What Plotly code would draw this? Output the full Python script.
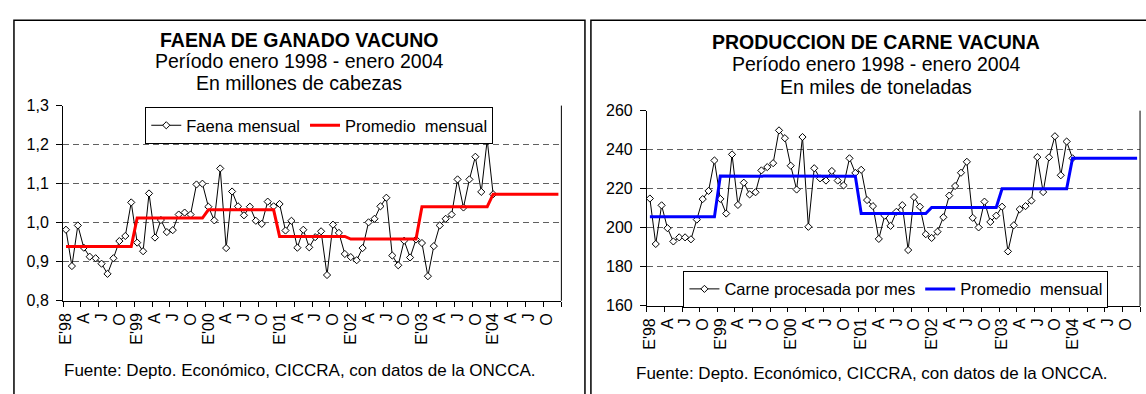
import plotly.graph_objects as go

# ---------------- data ----------------
tick_labels = ["E'98", "A", "J", "O", "E'99", "A", "J", "O", "E'00", "A", "J", "O",
               "E'01", "A", "J", "O", "E'02", "A", "J", "O", "E'03", "A", "J", "O",
               "E'04", "A", "J", "O"]

# Faena mensual (millones de cabezas), enero 1998 - enero 2004
faena = [0.982, 0.889, 0.993, 0.936, 0.913, 0.909, 0.895, 0.869, 0.909, 0.953, 0.966, 1.052,
         0.949, 0.927, 1.075, 0.962, 1.007, 0.976, 0.981, 1.021, 1.026, 1.021, 1.098, 1.100,
         1.041, 1.006, 1.139, 0.935, 1.080, 1.042, 1.019, 1.041, 1.005, 0.997, 1.054, 1.042,
         1.048, 0.980, 1.005, 0.936, 0.982, 0.937, 0.963, 0.978, 0.866, 0.995, 0.974, 0.920,
         0.912, 0.904, 0.935, 1.001, 1.010, 1.042, 1.064, 0.916, 0.891, 0.954, 0.911, 0.957,
         0.948, 0.863, 0.940, 0.993, 1.010, 1.021, 1.111, 1.039, 1.111, 1.169, 1.079, 1.212,
         1.073]
# Promedio mensual por año 1998..2004
faena_promedio_anual = [0.939, 1.012, 1.033, 0.965, 0.958, 1.041, 1.073]

# Carne procesada por mes (miles de toneladas)
carne = [215.0, 191.7, 211.5, 199.8, 193.0, 195.1, 195.1, 194.1, 204.2, 214.7, 218.9, 234.5,
         214.8, 207.3, 237.6, 211.7, 223.1, 217.1, 218.2, 229.4, 231.1, 233.1, 249.9, 245.9,
         231.8, 219.6, 246.5, 200.5, 230.5, 225.3, 224.2, 229.1, 224.2, 221.7, 235.6, 228.1,
         229.7, 214.2, 211.1, 194.3, 206.2, 201.0, 208.2, 211.6, 188.6, 215.7, 210.8, 196.7,
         194.8, 198.0, 205.4, 216.5, 221.4, 228.2, 233.8, 205.1, 200.2, 213.4, 203.0, 206.2,
         210.8, 187.9, 201.3, 209.5, 211.1, 213.9, 236.2, 218.3, 236.1, 246.9, 226.9, 244.2,
         235.6]
carne_promedio_anual = [205.6, 226.5, 226.4, 207.3, 210.4, 220.0, 235.6]

N_MONTHS = 84
x_data = list(range(len(faena)))
x_prom = list(range(N_MONTHS))
faena_prom = [faena_promedio_anual[i // 12] for i in x_prom]
carne_prom = [carne_promedio_anual[i // 12] for i in x_prom]

W, H = 1146, 394
FONT = "Liberation Sans, Arial, sans-serif"

def px(x):
    return x / W

def py(y):
    return 1 - y / H

fig = go.Figure()

marker = dict(symbol="diamond", size=5.5, color="white", line=dict(color="black", width=1))

fig.add_trace(go.Scatter(x=x_data, y=faena, mode="lines+markers", name="Faena mensual",
                         line=dict(color="black", width=1), marker=marker,
                         xaxis="x", yaxis="y", legend="legend"))
fig.add_trace(go.Scatter(x=x_prom, y=faena_prom, mode="lines", name="Promedio\u00a0 mensual",
                         line=dict(color="#FF0000", width=3),
                         xaxis="x", yaxis="y", legend="legend"))
fig.add_trace(go.Scatter(x=x_data, y=carne, mode="lines+markers", name="Carne procesada por mes",
                         line=dict(color="black", width=1), marker=marker,
                         xaxis="x2", yaxis="y2", legend="legend2"))
fig.add_trace(go.Scatter(x=x_prom, y=carne_prom, mode="lines", name="Promedio\u00a0 mensual",
                         line=dict(color="#0000FF", width=3),
                         xaxis="x2", yaxis="y2", legend="legend2"))

tickvals = [3 * i - 0.5 for i in range(len(tick_labels))] + [N_MONTHS - 0.5]
ticktext = tick_labels + [""]

def xaxis_cfg(domain, anchor):
    return dict(domain=domain, anchor=anchor, range=[-0.5, N_MONTHS - 0.5],
                tickmode="array", tickvals=tickvals, ticktext=ticktext,
                tickangle=-90, ticks="outside", ticklen=5, tickcolor="black", tickwidth=1,
                showline=True, linecolor="black", linewidth=1, showgrid=False, zeroline=False,
                ticklabelshift=3, tickfont=dict(size=16, color="black", family=FONT),
                fixedrange=True)

def yaxis_cfg(domain, anchor, rng, dtick, fmt):
    return dict(domain=domain, anchor=anchor, range=rng, dtick=dtick, tick0=rng[0],
                tickformat=fmt, showgrid=True, gridcolor="#606060", gridwidth=1.3,
                griddash="6px,4px", showline=True, linecolor="black", linewidth=1,
                ticks="outside", ticklen=6, tickcolor="black", zeroline=False,
                ticklabelstandoff=4,
                tickfont=dict(size=16, color="black", family=FONT), fixedrange=True)

L_dom_x = [px(57.3), px(558.3)]
L_dom_y = [py(306.0), py(102.0)]
R_dom_x = [px(644.3), px(1140.0)]
R_dom_y = [py(311.3), py(107.3)]

shapes = [
    # panel frames
    dict(type="rect", xref="paper", yref="paper", x0=px(8), x1=px(582), y0=-0.2, y1=py(12.7),
         line=dict(color="black", width=1.5), fillcolor="rgba(0,0,0,0)", layer="below"),
    dict(type="rect", xref="paper", yref="paper", x0=px(588), x1=1.2, y0=-0.2, y1=py(12.7),
         line=dict(color="black", width=1.5), fillcolor="rgba(0,0,0,0)", layer="below"),
    # right border of plot areas
    dict(type="line", xref="x domain", yref="y domain", x0=1, x1=1, y0=0, y1=1,
         line=dict(color="black", width=1)),
    dict(type="line", xref="x2 domain", yref="y2 domain", x0=1, x1=1, y0=0, y1=1,
         line=dict(color="black", width=1)),
]

def ann(text, x, y, size, bold=False):
    return dict(text=f"<b>{text}</b>" if bold else text, xref="paper", yref="paper",
                x=px(x), y=py(y), xanchor="center", yanchor="middle", showarrow=False,
                font=dict(size=size, color="black", family=FONT))

annotations = [
    ann("FAENA DE GANADO VACUNO", 295, 33.3, 19.5, bold=True),
    ann("Período enero 1998 - enero 2004", 295, 55.5, 19.5),
    ann("En millones de cabezas", 295, 78.0, 19.5),
    ann("Fuente: Depto. Económico, CICCRA, con datos de la ONCCA.", 295, 378.5, 17),
    ann("PRODUCCION DE CARNE VACUNA", 875, 36.0, 19.5, bold=True),
    ann("Período enero 1998 - enero 2004", 875, 59.0, 19.5),
    ann("En miles de toneladas", 875, 82.5, 19.5),
    ann("Fuente: Depto. Económico, CICCRA, con datos de la ONCCA.", 870, 381.5, 17),
]

legend_common = dict(orientation="h", xanchor="left", yanchor="top",
                     bgcolor="white", bordercolor="black", borderwidth=1,
                     font=dict(size=16.5, color="black", family=FONT),
                     itemwidth=30, tracegroupgap=0)

fig.update_layout(
    width=W, height=H, autosize=False,
    margin=dict(l=0, r=0, t=0, b=0, pad=0),
    paper_bgcolor="white", plot_bgcolor="white",
    font=dict(family=FONT, color="black", size=16),
    separators=",.",
    xaxis=xaxis_cfg(L_dom_x, "y"),
    yaxis=yaxis_cfg(L_dom_y, "x", [0.8, 1.3], 0.1, ".1f"),
    xaxis2=xaxis_cfg(R_dom_x, "y2"),
    yaxis2=yaxis_cfg(R_dom_y, "x2", [160, 260], 20, "d"),
    legend=dict(x=px(140), y=py(103.5), **legend_common),
    legend2=dict(x=px(681), y=py(274.5), **legend_common),
    shapes=shapes,
    annotations=annotations,
    hovermode=False,
)

fig.write_html("out.html")
